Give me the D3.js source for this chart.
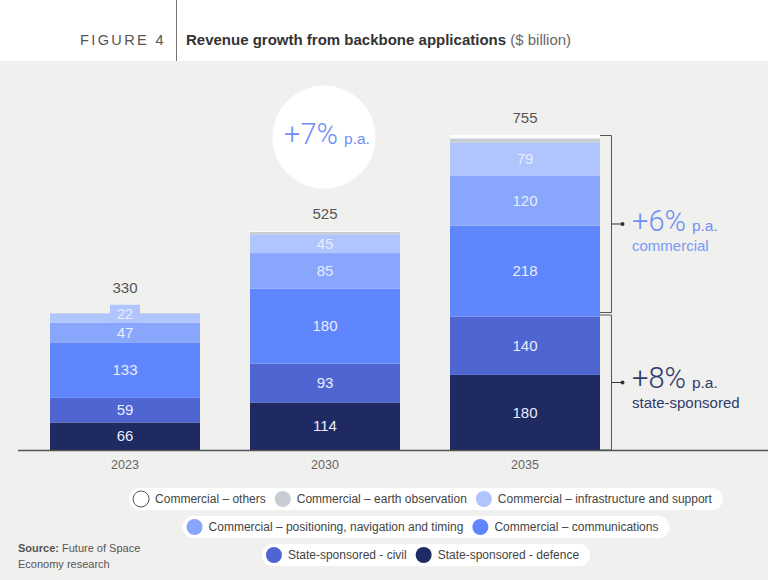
<!DOCTYPE html>
<html>
<head>
<meta charset="utf-8">
<script src="https://cdn.jsdelivr.net/npm/d3@7"></script>
<style>
  body { margin: 0; background: #fff; }
  svg { display: block; font-family: "Liberation Sans", Arial, sans-serif; }
</style>
</head>
<body>
<div id="chart"></div>
<script>
// Data ($ billion)
const years = ["2023", "2030", "2035"];
const totals = [330, 525, 755];
const defence = [66, 114, 180];
const civil = [59, 93, 140];
const comms = [133, 180, 218];
const pnt = [47, 85, 120];
const infra = [22, 45, 79];
const earthObs = [2, 6, 10];
const others = [1, 2, 8];

const keys = ["defence", "civil", "comms", "pnt", "infra", "earthObs", "others"];
const labelledKeys = ["defence", "civil", "comms", "pnt", "infra"];
const colors = ["#1f2a62", "#4e65d2", "#6086fd", "#89a6fd", "#b0c4fe", "#c8ccd3", "#ffffff"];

const legendLabels = [
  "Commercial – others",
  "Commercial – earth observation",
  "Commercial – infrastructure and support",
  "Commercial – positioning, navigation and timing",
  "Commercial – communications",
  "State-sponsored - civil",
  "State-sponsored - defence"
];
const legendKeys = ["others", "earthObs", "infra", "pnt", "comms", "civil", "defence"];
const legendRows = [[0, 1, 2], [3, 4], [5, 6]];

const growthAll = "+7%";
const growthCommercial = "+6%";
const growthState = "+8%";

const width = 768;
const height = 580;

const svg = d3.select("#chart").append("svg")
  .attr("width", width)
  .attr("height", height);

// Header + grey panel
svg.append("rect")
  .attr("x", 0).attr("y", 61)
  .attr("width", width).attr("height", height - 61)
  .attr("fill", "#f0f0ee");

svg.append("line")
  .attr("x1", 176.5).attr("x2", 176.5)
  .attr("y1", 0).attr("y2", 61)
  .attr("stroke", "#777")
  .attr("stroke-width", 1);

svg.append("text")
  .attr("x", 80).attr("y", 45)
  .style("font-size", "14.5px")
  .style("letter-spacing", "2.4px")
  .attr("fill", "#555")
  .text("FIGURE 4");

const title = svg.append("text")
  .attr("x", 186).attr("y", 45)
  .style("font-size", "15px")
  .attr("fill", "#333");
title.append("tspan").attr("font-weight", "bold").text("Revenue growth from backbone applications");
title.append("tspan").attr("fill", "#666").text(" ($ billion)");

// Table for stacking
const table = years.map((yr, i) => ({
  year: yr,
  defence: defence[i], civil: civil[i], comms: comms[i], pnt: pnt[i],
  infra: infra[i], earthObs: earthObs[i], others: others[i]
}));

const series = d3.stack().keys(keys)(table);

const color = d3.scaleOrdinal().domain(keys).range(colors);

const x = d3.scaleBand()
  .domain(years)
  .range([25, 625])
  .paddingInner(0.25)
  .paddingOuter(0.125);

const y = d3.scaleLinear()
  .domain([0, d3.max(totals)])
  .range([450, 135]);

// Bars
svg.append("g")
  .selectAll("g")
  .data(series)
  .join("g")
  .attr("fill", d => color(d.key))
  .selectAll("rect")
  .data(d => d)
  .join("rect")
  .attr("x", d => x(d.data.year))
  .attr("y", d => y(d[1]))
  .attr("width", x.bandwidth())
  .attr("height", d => y(d[0]) - y(d[1]));

// Segment labels
const labelTops = years.map((yr, i) => y(totals[i]));
series.filter(s => labelledKeys.includes(s.key)).forEach(s => {
  s.forEach(d => {
    const cx = x(d.data.year) + x.bandwidth() / 2;
    const h = y(d[0]) - y(d[1]);
    let cy = (y(d[0]) + y(d[1])) / 2;
    if (h < 14) {
      // small segment: label sits on a tab of the segment colour
      const tabTop = y(d[0]) - 18;
      svg.append("rect")
        .attr("x", cx - 15).attr("y", tabTop)
        .attr("width", 30).attr("height", 18)
        .attr("fill", color(s.key));
      cy = y(d[0]) - 9;
      const i = years.indexOf(d.data.year);
      labelTops[i] = Math.min(labelTops[i], tabTop);
    }
    svg.append("text")
      .attr("x", cx).attr("y", cy)
      .attr("dy", "0.35em")
      .attr("text-anchor", "middle")
      .style("font-size", "15px")
      .attr("fill", "#e8edff")
      .text(d[1] - d[0]);
  });
});

// Totals
svg.append("g")
  .selectAll("text")
  .data(totals)
  .join("text")
  .attr("x", (d, i) => x(years[i]) + x.bandwidth() / 2)
  .attr("y", (d, i) => labelTops[i] - 12)
  .attr("text-anchor", "middle")
  .style("font-size", "15px")
  .attr("fill", "#555")
  .text(d => d);

// Baseline and year labels
svg.append("line")
  .attr("x1", 18).attr("x2", width)
  .attr("y1", y(0) + 0.5).attr("y2", y(0) + 0.5)
  .attr("stroke", "#555")
  .attr("stroke-width", 1.5);

svg.append("g")
  .selectAll("text")
  .data(years)
  .join("text")
  .attr("x", d => x(d) + x.bandwidth() / 2)
  .attr("y", y(0) + 19)
  .attr("text-anchor", "middle")
  .style("font-size", "12.5px")
  .attr("fill", "#666")
  .text(d => d);

// Overall growth bubble
const bubbleX = x("2030") + x.bandwidth() / 2 - 1;
const bubbleY = 137;
svg.append("circle")
  .attr("cx", bubbleX).attr("cy", bubbleY).attr("r", 51.5)
  .attr("fill", "#fff");

function growthText(xPos, yPos, value, fill, anchor) {
  const t = svg.append("text")
    .attr("x", xPos).attr("y", yPos)
    .attr("text-anchor", anchor)
    .attr("fill", fill);
  t.append("tspan")
    .style("font-family", "Roboto, 'Liberation Sans', sans-serif")
    .style("font-weight", 300)
    .style("font-size", "29px")
    .text(value);
  t.append("tspan")
    .attr("dx", 6)
    .style("font-size", "15.5px")
    .text("p.a.");
  return t;
}

growthText(bubbleX + 3, bubbleY + 7, growthAll, "#6f8ff5", "middle");

// Brackets on the 2035 bar
const barRight = x("2035") + x.bandwidth();
const stateTotal = defence[2] + civil[2];

function bracket(top, bottom) {
  const bx = barRight + 11.5;
  svg.append("path")
    .attr("d", `M${barRight},${top}H${bx}V${bottom}H${barRight}`)
    .attr("fill", "none")
    .attr("stroke", "#555")
    .attr("stroke-width", 1);
  const mid = (top + bottom) / 2;
  svg.append("line")
    .attr("x1", bx).attr("x2", bx + 11)
    .attr("y1", mid).attr("y2", mid)
    .attr("stroke", "#333");
  svg.append("circle")
    .attr("cx", bx + 11).attr("cy", mid).attr("r", 2)
    .attr("fill", "#333");
  return mid;
}

const midC = bracket(y(totals[2]) + 0.5, y(stateTotal) - 4);
const midS = bracket(y(stateTotal) - 1.5, y(0));

growthText(632, midC + 7, growthCommercial, "#6f8ff5", "start");
svg.append("text")
  .attr("x", 632).attr("y", midC + 27)
  .style("font-size", "15px")
  .attr("fill", "#7b98f5")
  .text("commercial");

growthText(632, midS + 6, growthState, "#2f3a6b", "start");
svg.append("text")
  .attr("x", 632).attr("y", midS + 26)
  .style("font-size", "15px")
  .attr("fill", "#2f3a6b")
  .text("state-sponsored");

// Legend rows in white pills
const rowY = [499, 527, 555];
const legendCenter = 426;
legendRows.forEach((row, r) => {
  const g = svg.append("g");
  let cursor = 0;
  row.forEach(idx => {
    const item = g.append("g").attr("transform", `translate(${cursor},0)`);
    const key = legendKeys[idx];
    item.append("circle")
      .attr("cx", 12).attr("cy", 0).attr("r", 8)
      .attr("fill", color(key))
      .attr("stroke", key === "others" ? "#555" : "none")
      .attr("stroke-width", 1);
    const t = item.append("text")
      .attr("x", 26).attr("y", 0)
      .attr("dy", "0.35em")
      .style("font-size", "12px")
      .attr("fill", "#444")
      .text(legendLabels[idx]);
    const w = t.node().getComputedTextLength();
    cursor += 26 + w + 5;
  });
  const pillW = cursor + 6;
  g.insert("rect", ":first-child")
    .attr("x", 0).attr("y", -11)
    .attr("width", pillW).attr("height", 22)
    .attr("rx", 11)
    .attr("fill", "#fff");
  g.attr("transform", `translate(${legendCenter - pillW / 2},${rowY[r]})`);
});

// Source note
const src = svg.append("text")
  .attr("x", 18).attr("y", 552)
  .style("font-size", "11px")
  .attr("fill", "#555");
src.append("tspan").attr("font-weight", "bold").text("Source:");
src.append("tspan").text(" Future of Space");
svg.append("text")
  .attr("x", 18).attr("y", 568)
  .style("font-size", "11px")
  .attr("fill", "#555")
  .text("Economy research");
</script>
</body>
</html>
